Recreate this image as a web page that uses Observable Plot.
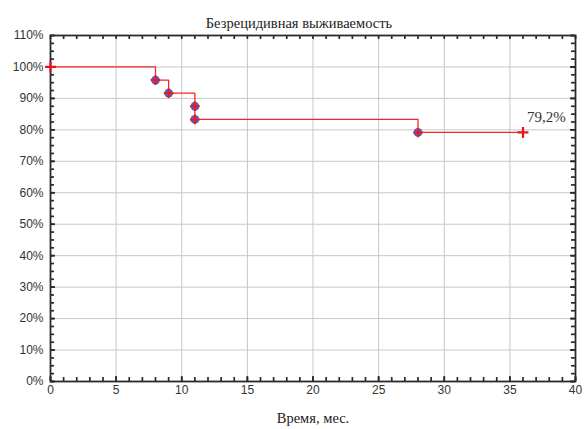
<!DOCTYPE html>
<html>
<head>
<meta charset="utf-8">
<script src="https://cdn.jsdelivr.net/npm/d3@7"></script>
<script src="https://cdn.jsdelivr.net/npm/@observablehq/plot@0.6"></script>
<style>
  html, body { margin: 0; padding: 0; background: #fff; }
</style>
</head>
<body>
<div id="chart"></div>
<script>
// Kaplan–Meier step curve (time in months, survival in %)
const stepTimes = [0, 8, 9, 11, 11, 28, 36];
const stepSurvival = [100, 95.83, 91.67, 87.5, 83.33, 79.17, 79.17];
// Events (blue circles)
const eventTimes = [8, 9, 11, 11, 28];
const eventSurvival = [95.83, 91.67, 87.5, 83.33, 79.17];
// Censored / endpoints (red plus)
const censorTimes = [0, 36];
const censorSurvival = [100, 79.17];
// Annotation
const finalLabel = "79,2%";
// Ticks
const xMajorTicks = [0, 5, 10, 15, 20, 25, 30, 35, 40];
const xMinorTicks = d3.range(0, 41, 1);
const yMajorTicks = [0, 10, 20, 30, 40, 50, 60, 70, 80, 90, 100, 110];
const yMinorTicks = d3.range(0, 110.1, 2.5);
const title = "Безрецидивная выживаемость";
const xLabel = "Время, мес.";

const steps = stepTimes.map((t, i) => ({t, s: stepSurvival[i]}));
const events = eventTimes.map((t, i) => ({t, s: eventSurvival[i]}));
const censors = censorTimes.map((t, i) => ({t, s: censorSurvival[i]}));
const last = censors[censors.length - 1];

const serif = "'Liberation Serif', 'Times New Roman', serif";
const sans = "'Liberation Sans', Arial, sans-serif";

const W = 584, H = 429, mL = 50, mR = 9, mT = 35, mB = 48;
const fw = W - mL - mR, fh = H - mT - mB;
const tk = {stroke: "#2a2a2a", strokeWidth: 1.7};

const chart = Plot.plot({
  width: W,
  height: H,
  marginLeft: mL,
  marginRight: mR,
  marginTop: mT,
  marginBottom: mB,
  style: {fontFamily: sans, fontSize: "12px", color: "#333", background: "#fff"},
  x: {domain: [0, 40]},
  y: {domain: [0, 110]},
  marks: [
    Plot.gridX(xMajorTicks, {stroke: "#c8c8c8", strokeOpacity: 1}),
    Plot.gridY(yMajorTicks, {stroke: "#c8c8c8", strokeOpacity: 1}),
    // labels
    Plot.axisX(xMajorTicks, {anchor: "bottom", tickSize: 0, tickPadding: 4, fontSize: 12, label: null, fill: "#333"}),
    Plot.axisY(yMajorTicks, {anchor: "left", tickSize: 0, tickPadding: 7, fontSize: 12, label: null, fill: "#333", tickFormat: d => d + "%"}),
    // inward ticks
    Plot.tickX(xMinorTicks, {x: d => d, insetTop: fh - 4, ...tk}),
    Plot.tickX(xMinorTicks, {x: d => d, insetBottom: fh - 4, ...tk}),
    Plot.tickX(xMajorTicks, {x: d => d, insetTop: fh - 5, ...tk}),
    Plot.tickY(yMinorTicks, {y: d => d, insetRight: fw - 4, ...tk}),
    Plot.tickY(yMinorTicks, {y: d => d, insetLeft: fw - 4, ...tk}),
    Plot.tickY(yMajorTicks, {y: d => d, insetRight: fw - 5, ...tk}),
    Plot.tickY(yMajorTicks, {y: d => d, insetLeft: fw - 5, ...tk}),
    Plot.frame({stroke: "#2a2a2a", strokeWidth: 1.8}),
    // step curve
    Plot.line(steps, {x: "t", y: "s", curve: "step-after", stroke: "#f02828", strokeWidth: 1.3}),
    Plot.dot(events, {x: "t", y: "s", r: 4.4, fill: "#4a64c8", stroke: "none"}),
    Plot.dot(events, {x: "t", y: "s", symbol: "plus", r: 3.2, fill: "none", stroke: "#f01818", strokeWidth: 2}),
    Plot.dot(censors, {x: "t", y: "s", symbol: "plus", r: 3.6, fill: "none", stroke: "#e8141c", strokeWidth: 2.2}),
    Plot.text([last], {x: "t", y: "s", text: () => finalLabel, textAnchor: "start", dx: 4, dy: -15, fontSize: 15, fontFamily: serif, fill: "#333"}),
    Plot.text([title], {frameAnchor: "top", text: d => d, dx: -14, dy: -18, fontSize: 14.5, fontFamily: serif, fill: "#222"}),
    Plot.text([xLabel], {frameAnchor: "bottom", text: d => d, dy: 41, fontSize: 14.5, fontFamily: serif, fill: "#222"})
  ]
});
document.getElementById("chart").appendChild(chart);
</script>
</body>
</html>
